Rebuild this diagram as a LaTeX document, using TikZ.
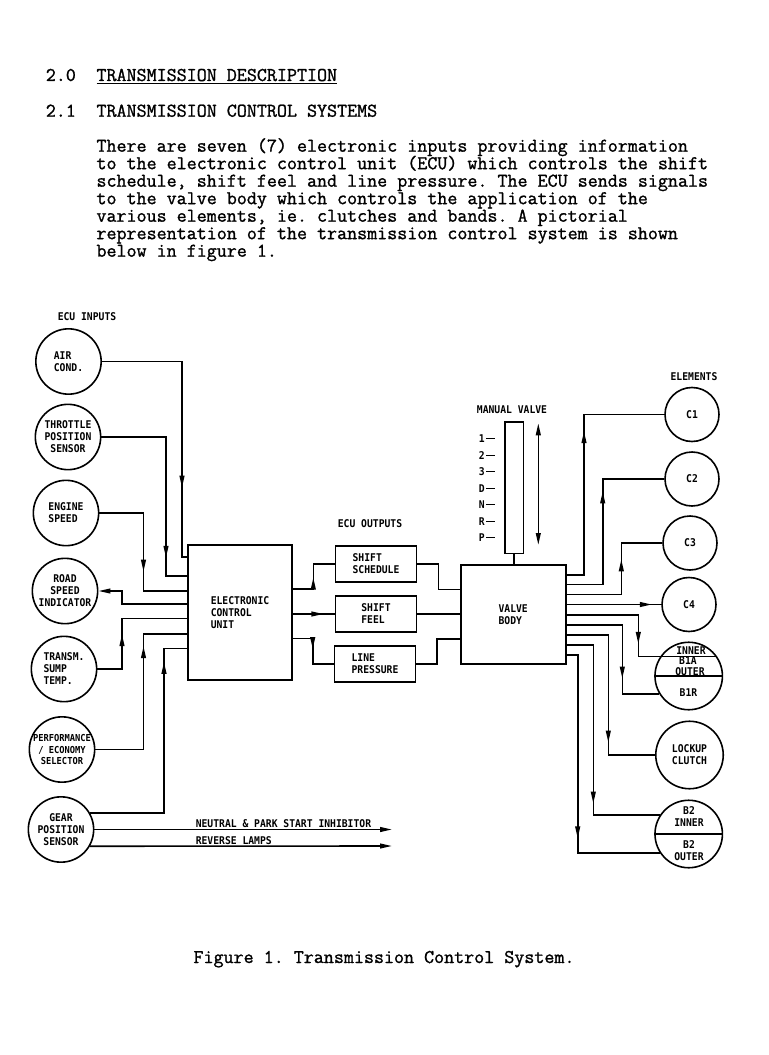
\documentclass[tikz,border=0pt]{standalone}
\usepackage{fontspec}
\usetikzlibrary{arrows.meta, decorations.markings}
\setmonofont{Latin Modern Mono}[FakeBold = 1.2]
\newfontfamily\plotfont{DejaVu Sans Mono}[FakeStretch = 0.91]
\newcommand\plotsize{\plotfont\bfseries\fontsize{8}{9}\selectfont}
\newcommand\typesize{\ttfamily\fontsize{14.6}{13.1}\selectfont}
\begin{document}
\begin{tikzpicture}[
        x = 0.75pt, y = -0.75pt,
        line width = 1.2pt,
        > = {Triangle[length = 9pt, width = 3.6pt]},
        flow/.style = {postaction = {decorate, decoration = {markings, mark = at position #1 with {\arrow{>}}}}},
        inp/.style = {circle, draw, minimum size = 49pt, inner sep = 0pt, align = center, font = \plotsize},
        elem/.style = {circle, draw, minimum size = 40.5pt, inner sep = 0pt, font = \plotsize},
        band/.style = {circle, draw, minimum size = 50.6pt, inner sep = 0pt, align = center, font = \plotsize},
        blk/.style = {draw, minimum width = 61pt, minimum height = 27pt, inner sep = 0pt, align = left, font = \plotsize},
        lbl/.style = {inner sep = 0pt, align = center, font = \plotsize},
        txt/.style = {anchor = base west, inner sep = 0pt, font = \typesize}
    ]
        \useasboundingbox (0,0) rectangle (768,1055);
        % page text
        \node[txt] (num20) at (45,81) {2.0};
        \node[txt] (head20) at (95.7,81) {\underline{TRANSMISSION DESCRIPTION}};
        \node[txt] (num21) at (45,116.7) {2.1};
        \node[txt] (head21) at (95.7,116.7) {TRANSMISSION CONTROL SYSTEMS};
        \node[txt] (para1) at (95.7,151.7) {There are seven (7) electronic inputs providing information};
        \node[txt] (para2) at (95.7,169.2) {to the electronic control unit (ECU) which controls the shift};
        \node[txt] (para3) at (95.7,186.7) {schedule, shift feel and line pressure. The ECU sends signals};
        \node[txt] (para4) at (95.7,204.2) {to the valve body which controls the application of the};
        \node[txt] (para5) at (95.7,221.7) {various elements, ie. clutches and bands. A pictorial};
        \node[txt] (para6) at (95.7,239.2) {representation of the transmission control system is shown};
        \node[txt] (para7) at (95.7,256.7) {below in figure 1.};
        \node[txt, anchor = base] (caption) at (384,963) {Figure 1. Transmission Control System.};
        % inputs
        \node[lbl] (inlbl) at (87,317) {ECU INPUTS};
        \node[inp, align = left] (air) at (68.5,361.5) {AIR\\COND.};
        \node[inp] (thr) at (68,437) {THROTTLE\\POSITION\\SENSOR};
        \node[inp, align = left] (eng) at (66,513) {ENGINE\\SPEED};
        \node[inp] (road) at (65,591) {ROAD\\SPEED\\INDICATOR};
        \node[inp, align = left] (sump) at (64,669) {TRANSM.\\SUMP\\TEMP.};
        \node[inp, font = {\plotfont\bfseries\fontsize{7.2}{8.4}\selectfont}] (perf) at (62,749.5) {PERFORMANCE\\/ ECONOMY\\SELECTOR};
        \node[inp] (gear) at (61,829.5) {GEAR\\POSITION\\SENSOR};
        % ecu and outputs
        \node[draw, minimum width = 78pt, minimum height = 101.25pt, align = left, font = \plotsize] (ecu) at (240,612.5) {ELECTRONIC\\CONTROL\\UNIT};
        \node[lbl] (outlbl) at (370,524) {ECU OUTPUTS};
        \node[blk] (sched) at (376,564) {SHIFT\\SCHEDULE};
        \node[blk] (feel) at (376,614) {SHIFT\\FEEL};
        \node[blk] (press) at (375,663.7) {LINE\\PRESSURE};
        \node[draw, minimum width = 78.75pt, minimum height = 74.25pt, align = left, font = \plotsize] (vb) at (513.2,614.5) {VALVE\\BODY};
        % manual valve
        \node[lbl] (mvlbl) at (512,409.3) {MANUAL VALVE};
        \node[draw, minimum width = 13.7pt, minimum height = 98.7pt, inner sep = 0pt] (tube) at (514.2,487.5) {};
        \foreach \g [count = \i] in {1,2,3,D,N,R,P}
            \node[lbl, anchor = west] (tick\g) at (478,422.5+16.5*\i) {\g\,\rule[2.6pt]{6.5pt}{0.8pt}};
        \coordinate (mvtop) at (538.3,423.3);
        \coordinate (mvbot) at (538.3,545);
        \draw[<->] (mvtop) -- (mvbot);
        \draw (tube.south) -- (tube.south |- vb.north);
        % elements
        \node[lbl] (ellbl) at (694,376.7) {ELEMENTS};
        \node[elem] (c1) at (692,414.5) {C1};
        \node[elem] (c2) at (692,479) {C2};
        \node[elem] (c3) at (690,543) {C3};
        \node[elem] (c4) at (689,604.5) {C4};
        \node[band] (b1) at (688.7,676) {};
        \node[lbl] (b1inner) at (691,650.7) {INNER};
        \node[lbl] (b1a) at (688,661) {B1A};
        \node[lbl] (b1outer) at (690,671.5) {OUTER};
        \node[lbl] (b1r) at (688.5,692.3) {B1R};
        \draw (b1.146) -- (b1.34);
        \draw (b1.west) -- (b1.east);
        \node[band] (lock) at (689.5,755) {LOCKUP\\CLUTCH};
        \node[band] (b2) at (688.7,834) {};
        \node[lbl] (b2in) at (689,816.5) {B2\\INNER};
        \node[lbl] (b2out) at (689,851) {B2\\OUTER};
        \draw (b2.west) -- (b2.east);
        % input lines
        \draw[flow = 154.7pt] (air.east) -| (182,557) -- (ecu.west |- 0,557);
        \draw[flow = 139pt] (thr.east) -| (166,576) -- (ecu.west |- 0,576);
        \draw[flow = 77pt] (eng.east) -| (143.5,591) -- (ecu.west |- 0,591);
        \draw[->] (ecu.west |- 0,604) -| (122,591) -- (road.east);
        \draw[flow = 44.5pt] (sump.east) -| (122,618.5) -- (ecu.west |- 0,618.5);
        \draw[flow = 113.5pt] (perf.east) -| (143.5,634) -- (ecu.west |- 0,634);
        \draw[flow = 168.7pt] (gear.30) -| (164,648.3) -- (ecu.west |- 0,648.3);
        \coordinate (npsend) at (392,829.5);
        \coordinate (lampend) at (392,846);
        \draw[->] (gear.east) -- (npsend);
        \draw[->] (gear.-30) -- (lampend);
        \node[lbl, anchor = base west] (npslbl) at (195,827.5) {NEUTRAL \& PARK START INHIBITOR};
        \node[lbl, anchor = base west] (lamplbl) at (195,844) {REVERSE LAMPS};
        % ecu output lines
        \draw[flow = 24pt] (ecu.east |- 0,589) -| (313.3,564) -- (sched.west);
        \draw[flow = 23pt] (ecu.east |- 0,614) -- (feel.west);
        \draw[flow = 23pt] (ecu.east |- 0,638.3) -| (312.7,663.7) -- (press.west);
        \draw (sched.east) -| (438.3,589.3) -- (vb.west |- 0,589.3);
        \draw (feel.east) -- (vb.west |- feel.east);
        \draw (press.east) -| (436.7,639) -- (vb.west |- 0,639);
        % valve body lines
        \draw[flow = 121pt] (vb.east |- 0,575) -| (584,414.5) -- (c1.west);
        \draw[flow = 97pt] (vb.east |- 0,584.5) -| (602.7,479) -- (c2.west);
        \draw[flow = 67.5pt] (vb.east |- 0,594.5) -| (621.3,543) -- (c3.west);
        \draw[flow = 64pt] (vb.east |- 0,604.5) -- (c4.west);
        \draw[flow = 75.5pt] (vb.east |- 0,615) -| (638.3,0 |- b1.146) -- (b1.146);
        \draw[flow = 82pt] (vb.east |- 0,625) -| (622.3,0 |- b1.211) -- (b1.211);
        \draw[flow = 112pt] (vb.east |- 0,635) -| (608.3,755) -- (lock.west);
        \draw[flow = 139pt] (vb.east |- 0,645) -| (593.3,0 |- b2.147) -- (b2.147);
        \draw[flow = 146pt] (vb.east |- 0,655) -| (577.7,0 |- b2.213) -- (b2.213);
    \end{tikzpicture}
\end{document}
